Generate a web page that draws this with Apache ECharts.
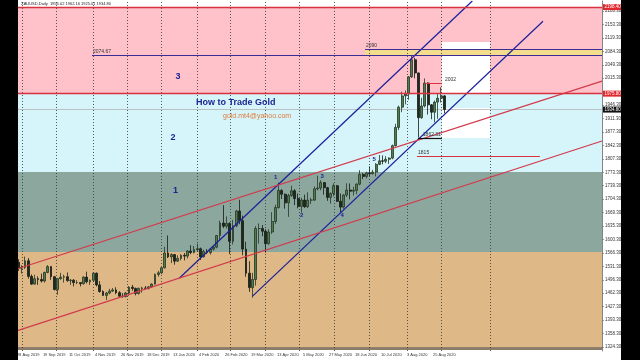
<!DOCTYPE html>
<html>
<head>
<meta charset="utf-8">
<script src="https://cdn.jsdelivr.net/npm/echarts@6.0.0/dist/echarts.min.js"></script>
<style>
  html, body { margin: 0; padding: 0; background: #fff; }
  #chart { width: 640px; height: 360px; }
</style>
</head>
<body>
<div id="chart"></div>
<script>
// XAUUSD daily, 2-day candles (bar index = trading day, 0 = 28 Aug 2019)
const firstBar = -1
const barStep = 2
const opens = [
  1526, 1542, 1527, 1529, 1546, 1506, 1486, 1500, 1498, 1494,
  1516, 1531, 1505, 1472, 1500, 1504, 1505, 1495, 1496, 1490,
  1490, 1487, 1504, 1492, 1496, 1514, 1484, 1467, 1457, 1463,
  1468, 1471, 1464, 1455, 1454, 1463, 1478, 1475, 1462, 1475,
  1476, 1475, 1479, 1486, 1511, 1515, 1528, 1566, 1556, 1562,
  1545, 1552, 1560, 1558, 1571, 1567, 1575, 1577, 1556, 1570,
  1567, 1576, 1581, 1611, 1643, 1635, 1642, 1596, 1636, 1674,
  1649, 1576, 1514, 1477, 1498, 1629, 1629, 1622, 1590, 1620,
  1647, 1683, 1727, 1717, 1695, 1714, 1726, 1706, 1686, 1702,
  1685, 1702, 1702, 1731, 1733, 1747, 1734, 1709, 1719, 1739,
  1699, 1684, 1715, 1728, 1725, 1727, 1743, 1768, 1763, 1772,
  1770, 1774, 1794, 1803, 1802, 1807, 1810, 1842, 1889, 1941,
  1970, 1975, 2019, 2063, 2029, 1914, 1944, 2003, 1947, 1928,
  1954, 1964, 1970
]
const closes = [
  1542, 1527, 1529, 1546, 1506, 1486, 1500, 1498, 1494, 1516,
  1531, 1505, 1472, 1500, 1504, 1505, 1495, 1496, 1490, 1490,
  1487, 1504, 1492, 1496, 1514, 1484, 1467, 1457, 1463, 1468,
  1471, 1464, 1455, 1454, 1463, 1478, 1475, 1462, 1475, 1476,
  1475, 1479, 1486, 1511, 1515, 1528, 1566, 1556, 1562, 1545,
  1552, 1560, 1558, 1571, 1567, 1575, 1577, 1556, 1570, 1567,
  1576, 1581, 1611, 1643, 1635, 1642, 1596, 1636, 1674, 1649,
  1576, 1514, 1477, 1498, 1629, 1629, 1622, 1590, 1620, 1647,
  1683, 1727, 1717, 1695, 1714, 1726, 1706, 1686, 1702, 1685,
  1702, 1702, 1731, 1733, 1747, 1734, 1709, 1719, 1739, 1699,
  1684, 1715, 1728, 1725, 1727, 1743, 1768, 1763, 1772, 1770,
  1774, 1794, 1803, 1802, 1807, 1810, 1842, 1889, 1941, 1970,
  1975, 2019, 2063, 2029, 1914, 1944, 2003, 1947, 1928, 1954,
  1964, 1970, 1935
]
const lows = [
  1515, 1520, 1513, 1525, 1500, 1484, 1485, 1484, 1490, 1490,
  1514, 1497, 1470, 1459, 1497, 1490, 1492, 1484, 1480, 1486,
  1480, 1485, 1488, 1484, 1491, 1480, 1464, 1456, 1445, 1460,
  1466, 1460, 1454, 1451, 1452, 1456, 1469, 1457, 1459, 1464,
  1472, 1472, 1476, 1485, 1505, 1512, 1526, 1553, 1540, 1536,
  1543, 1547, 1547, 1552, 1563, 1565, 1570, 1548, 1555, 1563,
  1562, 1572, 1578, 1600, 1630, 1629, 1563, 1588, 1632, 1640,
  1560, 1505, 1466, 1451, 1482, 1590, 1609, 1567, 1587, 1615,
  1641, 1680, 1705, 1680, 1659, 1710, 1689, 1681, 1670, 1682,
  1682, 1692, 1700, 1727, 1727, 1716, 1700, 1693, 1712, 1697,
  1670, 1680, 1710, 1704, 1714, 1717, 1740, 1756, 1758, 1764,
  1768, 1763, 1792, 1794, 1797, 1795, 1807, 1840, 1882, 1928,
  1948, 1960, 2016, 2015, 1863, 1911, 1940, 1922, 1910, 1902,
  1911, 1953, 1925
]
const highs = [
  1555, 1550, 1535, 1557, 1553, 1511, 1510, 1506, 1513, 1518,
  1535, 1532, 1507, 1502, 1515, 1510, 1516, 1499, 1499, 1496,
  1490, 1506, 1518, 1498, 1517, 1516, 1494, 1470, 1466, 1474,
  1476, 1478, 1468, 1463, 1466, 1481, 1484, 1477, 1477, 1479,
  1481, 1481, 1488, 1513, 1520, 1529, 1582, 1611, 1565, 1563,
  1560, 1563, 1566, 1573, 1586, 1584, 1590, 1580, 1574, 1576,
  1578, 1586, 1612, 1649, 1689, 1660, 1645, 1651, 1677, 1703,
  1662, 1595, 1545, 1515, 1635, 1642, 1638, 1627, 1627, 1671,
  1690, 1747, 1730, 1719, 1718, 1739, 1730, 1719, 1708, 1716,
  1722, 1708, 1737, 1765, 1753, 1748, 1736, 1722, 1745, 1741,
  1719, 1717, 1745, 1745, 1736, 1745, 1779, 1772, 1775, 1789,
  1780, 1797, 1818, 1817, 1815, 1812, 1845, 1898, 1945, 1981,
  1984, 2021, 2075, 2068, 2030, 1965, 2015, 2005, 1949, 1958,
  1976, 1992, 1972
]

// axes
const dateLabels = [
  '28 Aug 2019', '19 Sep 2019', '11 Oct 2019', '4 Nov 2019', '26 Nov 2019',
  '18 Dec 2019', '13 Jan 2020', '4 Feb 2020', '26 Feb 2020', '19 Mar 2020',
  '13 Apr 2020', '5 May 2020', '27 May 2020', '18 Jun 2020', '10 Jul 2020',
  '3 Aug 2020', '25 Aug 2020'
]
const labelEvery = 16
const monthStartBars = [3, 24, 47, 68, 89, 111, 131, 153, 174, 195, 217, 240, 261, 291]
const priceTicks = [
  '1324.30', '1358.30', '1393.30', '1427.30', '1462.30', '1496.30', '1531.30',
  '1566.30', '1600.30', '1635.30', '1669.30', '1704.30', '1739.30', '1773.30',
  '1807.30', '1842.30', '1877.30', '1911.30', '1946.30', '', '2015.30',
  '2049.30', '2084.30', '2119.30', '2153.30', '2188.30'
]
const tickBase = 1324.3
const tickStep = 34.56
const priceMin = 1314
const priceMax = 2214
const barMin = -3
const barMax = 360

// zones drawn on the chart (price from, price to)
const zoneBands = [[2198.4, 1975.8], [1975.8, 1774.3], [1774.3, 1568.6], [1568.6, 1323.5], [1323.5, 1316.6]]
const whiteBoxes = [[261.5, 2108.6, 291.1, 1977.4], [261.5, 1938.9, 291.1, 1861.7]]
const yellowBand = [214.2, 2074.67, 360, 2090]

// levels
const redLevels = [2198.4, 1975.8]
const lastPrice = 1934.8
const level2074 = [46.2, 2074.67]
const level2090 = [214.2, 2090]
const level2002 = [251.1, 261.5, 2002]
const level1862 = [246.8, 261.5, 1862.31]
const level1815 = [246.2, 321.8, 1815]

// trend lines [bar, price]
const blueUpper = [[99.9, 1501], [280.2, 2214]]
const blueLower = [[145, 1455], [323.7, 2162]]
const redUpper = [[-3, 1521], [360, 2008]]
const redLower = [[-3, 1362], [360, 1854]]

const candles = opens.map((o, i) => [firstBar + i * barStep, o, closes[i], lows[i], highs[i]])

const zoneColors = ['#ffc2ca', '#d6f5fb', '#8ca79d', '#deb887', '#8b7b69']
const navy = '#1c2592'
const redLine = '#d8323f'
const font = 'Liberation Sans, Arial, sans-serif'

const zoneAreas = zoneBands.map((b, i) => [
  { yAxis: b[0], itemStyle: { color: zoneColors[i], opacity: 1 } },
  { yAxis: b[1] },
])
whiteBoxes.forEach((b) => {
  zoneAreas.push([
    { coord: [b[0], b[1]], itemStyle: { color: '#ffffff', opacity: 1 } },
    { coord: [b[2], b[3]] },
  ])
})
zoneAreas.push([
  { coord: [yellowBand[0], yellowBand[1]], itemStyle: { color: '#f3dc8c', opacity: 1 } },
  { coord: [yellowBand[2], yellowBand[3]] },
])

const tag = (bg, text) => ({
  show: true,
  position: 'end',
  distance: 1,
  formatter: text,
  backgroundColor: bg,
  color: '#fff',
  fontSize: 4.5,
  fontFamily: font,
  padding: [0.5, 1.5],
})

const noLabel = { show: false }
const levelLines = [
  { yAxis: redLevels[0], lineStyle: { color: redLine, width: 1.4, type: 'solid' }, label: tag('#e0282e', redLevels[0].toFixed(2)) },
  { yAxis: redLevels[1], lineStyle: { color: redLine, width: 1.4, type: 'solid' }, label: tag('#e0282e', redLevels[1].toFixed(2)) },
  [
    { coord: [level2074[0], level2074[1]], lineStyle: { color: '#3b2c95', width: 1.1, type: 'solid' },
      label: { show: true, position: 'insideStartTop', formatter: '2074.67', fontSize: 5, color: '#333', fontFamily: font, distance: 1 } },
    { coord: [barMax, level2074[1]] },
  ],
  [
    { coord: [level2090[0], level2090[1]], lineStyle: { color: '#3b2c95', width: 1.1, type: 'solid' },
      label: { show: true, position: 'insideStartTop', formatter: '2090', fontSize: 5, color: '#333', fontFamily: font, distance: 1 } },
    { coord: [barMax, level2090[1]] },
  ],
  [
    { coord: [level2002[0], level2002[2]], lineStyle: { color: redLine, width: 1, type: 'solid' }, label: noLabel },
    { coord: [level2002[1], level2002[2]] },
  ],
  [
    { coord: [level1862[0], level1862[2]], lineStyle: { color: '#111', width: 1.2, type: 'solid' },
      label: { show: true, position: 'insideEndTop', formatter: '1862.31', fontSize: 5, color: '#333', fontFamily: font, distance: 1 } },
    { coord: [level1862[1], level1862[2]] },
  ],
  [
    { coord: [level1815[0], level1815[2]], lineStyle: { color: redLine, width: 1, type: 'solid' },
      label: { show: true, position: 'insideStartTop', formatter: '1815', fontSize: 5, color: '#333', fontFamily: font, distance: 1 } },
    { coord: [level1815[1], level1815[2]] },
  ],
]

const gridLines = monthStartBars.map((b) => ({ xAxis: b }))
gridLines.push({
  yAxis: lastPrice,
  lineStyle: { color: '#b4b4b4', width: 0.8, type: 'solid' },
  label: { ...tag('#111', lastPrice.toFixed(2)) },
})

const trend = (data, color) => ({
  type: 'line',
  data,
  z: 4,
  symbol: 'none',
  silent: true,
  clip: true,
  lineStyle: { color, width: 1.2 },
})

const text = (x, y, str, size, color, bold) => ({
  type: 'text',
  x,
  y,
  z: 10,
  style: {
    text: str,
    fontSize: size,
    fontFamily: font,
    fontWeight: bold ? 'bold' : 'normal',
    fill: color,
    verticalAlign: 'middle',
  },
})

const chart = echarts.init(document.getElementById('chart'))
chart.setOption({
  animation: false,
  backgroundColor: '#ffffff',
  grid: { left: 12, right: 38, top: 1, bottom: 9 },
  xAxis: {
    type: 'value',
    min: barMin,
    max: barMax,
    splitNumber: 22,
    minInterval: labelEvery,
    maxInterval: labelEvery,
    axisLine: { show: true, lineStyle: { color: '#666', width: 0.8 } },
    axisTick: { show: false },
    splitLine: { show: false },
    axisLabel: {
      fontSize: 4,
      color: '#333',
      fontFamily: font,
      align: 'left',
      margin: 2,
      showMinLabel: false,
      showMaxLabel: false,
      formatter: (v) => {
        const k = Math.round(v / labelEvery)
        return Math.abs(v - k * labelEvery) < 1e-6 && k >= 0 && k < dateLabels.length ? dateLabels[k] : ''
      },
    },
  },
  yAxis: [
    { type: 'value', min: priceMin, max: priceMax, show: false },
    {
      type: 'value',
      position: 'right',
      min: (priceMin - tickBase) / tickStep,
      max: (priceMax - tickBase) / tickStep,
      splitNumber: 26,
      minInterval: 1,
      maxInterval: 1,
      axisLine: { show: true, lineStyle: { color: '#666', width: 0.8 } },
      axisTick: { show: true, length: 2, lineStyle: { color: '#666', width: 0.6 } },
      splitLine: { show: false },
      axisLabel: {
        fontSize: 4.5,
        color: '#333',
        fontFamily: font,
        margin: 3,
        showMinLabel: false,
        showMaxLabel: false,
        formatter: (v) => {
          const k = Math.round(v)
          return Math.abs(v - k) < 1e-6 && priceTicks[k] ? priceTicks[k] : ''
        },
      },
    },
  ],
  series: [
    {
      name: 'zones',
      type: 'line',
      data: [],
      markArea: { silent: true, z: 1, data: zoneAreas },
    },
    {
      name: 'grid',
      type: 'line',
      data: [],
      markLine: {
        silent: true,
        z: 2,
        symbol: ['none', 'none'],
        label: { show: false },
        lineStyle: { color: '#333', width: 0.8, type: [1, 2] },
        data: gridLines,
      },
    },
    {
      name: 'XAUUSD',
      type: 'candlestick',
      z: 3,
      barWidth: 2.4,
      encode: { x: 0, y: [1, 2, 3, 4] },
      data: candles,
      itemStyle: {
        color: '#4f7d4c',
        color0: '#1f2a1f',
        borderColor: '#263626',
        borderColor0: '#151a15',
        borderWidth: 0.8,
      },
    },
    trend(blueUpper, '#1b1f9a'),
    trend(blueLower, '#1b1f9a'),
    trend(redUpper, '#d23a4c'),
    trend(redLower, '#d23a4c'),
    {
      name: 'levels',
      type: 'line',
      data: [],
      markLine: {
        silent: true,
        z: 5,
        symbol: ['none', 'none'],
        data: levelLines,
      },
    },
  ],
  graphic: [
    { type: 'rect', shape: { x: 0, y: 0, width: 18, height: 360 }, style: { fill: '#000' }, z: 100 },
    { type: 'rect', shape: { x: 621, y: 0, width: 19, height: 360 }, style: { fill: '#000' }, z: 100 },
    text(21, 3.5, 'XAUUSD,Daily  1956.02 1962.16 1925.01 1934.80', 4, '#222', false),
    text(175.5, 77, '3', 9, navy, true),
    text(170.5, 138, '2', 9, navy, true),
    text(173, 190.5, '1', 9, navy, true),
    text(196, 103, 'How to Trade Gold', 9, navy, true),
    text(223, 116, 'gold.mt4@yahoo.com', 7, '#e07a3a', false),
    text(274, 177.5, '1', 6, navy, true),
    text(300, 215.5, '2', 6, navy, true),
    text(320.5, 176.5, '3', 6, navy, true),
    text(340.5, 215, '4', 6, navy, true),
    text(372.5, 159, '5', 6, navy, true),
    text(445, 79.5, '2002', 5, '#333', false),
  ],
})
</script>
</body>
</html>
